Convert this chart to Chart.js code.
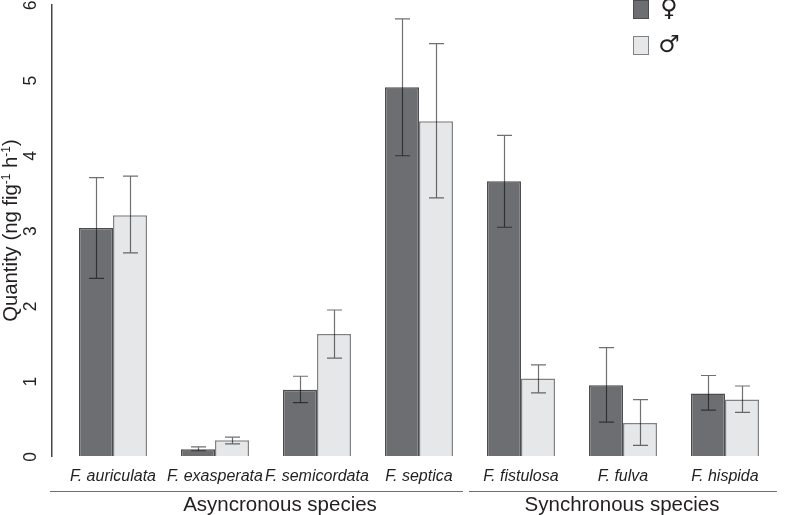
<!DOCTYPE html>
<html>
<head>
<meta charset="utf-8">
<style>
  html, body { margin: 0; padding: 0; background: #fff; }
  canvas { display: block; }
</style>
<script src="https://cdn.jsdelivr.net/npm/chart.js@4"></script>
</head>
<body>
<canvas id="chart" width="787" height="515"></canvas>
<script>
const species = ['F. auriculata', 'F. exasperata', 'F. semicordata', 'F. septica', 'F. fistulosa', 'F. fulva', 'F. hispida'];
const femaleValues = [3.03, 0.09, 0.88, 4.90, 3.65, 0.94, 0.83];
const maleValues = [3.20, 0.21, 1.62, 4.45, 1.03, 0.44, 0.75];
const femaleLow = [2.36, 0.07, 0.71, 3.99, 3.04, 0.45, 0.61];
const femaleHigh = [3.70, 0.12, 1.06, 5.81, 4.26, 1.44, 1.07];
const maleLow = [2.70, 0.16, 1.30, 3.43, 0.84, 0.14, 0.58];
const maleHigh = [3.72, 0.25, 1.94, 5.48, 1.21, 0.75, 0.93];
const yTicks = [0, 1, 2, 3, 4, 5, 6];
const groupNames = ['Asyncronous species', 'Synchronous species'];
const groupFirst = [0, 4];
const groupLast = [3, 6];

const SANS = '"Liberation Sans", Arial, sans-serif';
const INK = '#47474a';

const toPoints = (values) => values.map((y, x) => ({ x, y }));

// whiskers and caps, positioned from the bars the library laid out
const errorBars = {
  id: 'errorBars',
  afterDatasetsDraw(chart) {
    const { ctx, scales } = chart;
    const lows = [femaleLow, maleLow];
    const highs = [femaleHigh, maleHigh];
    ctx.save();
    // multiply: grey over white and the pale bars, near black over the dark bars
    ctx.globalCompositeOperation = 'multiply';
    ctx.strokeStyle = '#707072';
    ctx.lineWidth = 1.2;
    lows.forEach((low, d) => {
      chart.getDatasetMeta(d).data.forEach((bar, i) => {
        const x = Math.round(bar.x) + 0.5;
        const y0 = scales.y.getPixelForValue(low[i]);
        const y1 = scales.y.getPixelForValue(highs[d][i]);
        ctx.beginPath();
        ctx.moveTo(x, y0);
        ctx.lineTo(x, y1);
        ctx.moveTo(x - 7.5, y0);
        ctx.lineTo(x + 7.5, y0);
        ctx.moveTo(x - 7.5, y1);
        ctx.lineTo(x + 7.5, y1);
        ctx.stroke();
      });
    });
    ctx.restore();
  }
};

// rules and captions below the species names
const groupRules = {
  id: 'groupRules',
  afterDraw(chart) {
    const { ctx, scales } = chart;
    const pads = [[63, 44], [52, 52]];
    const centres = [280, 622];
    ctx.save();
    groupNames.forEach((name, i) => {
      const left = scales.x.getPixelForValue(groupFirst[i]) - pads[i][0];
      const right = scales.x.getPixelForValue(groupLast[i]) + pads[i][1];
      ctx.strokeStyle = '#6d6e71';
      ctx.lineWidth = 1;
      ctx.beginPath();
      ctx.moveTo(left, 491.5);
      ctx.lineTo(right, 491.5);
      ctx.stroke();
      ctx.fillStyle = '#231f20';
      ctx.font = '20.5px ' + SANS;
      ctx.textAlign = 'center';
      ctx.textBaseline = 'alphabetic';
      ctx.fillText(name, centres[i], 511);
    });
    ctx.restore();
  }
};

// y title with raised exponents
const yTitle = {
  id: 'yTitle',
  afterDraw(chart) {
    const { ctx } = chart;
    const parts = [['Quantity (ng fig', 0], ['-1', 1], [' h', 0], ['-1', 1], [')', 0]];
    const fontFor = (sup) => (sup ? '12px ' : '20.3px ') + SANS;
    ctx.save();
    let total = 0;
    parts.forEach(([text, sup]) => {
      ctx.font = fontFor(sup);
      total += ctx.measureText(text).width;
    });
    ctx.translate(17, 230.5);
    ctx.rotate(-Math.PI / 2);
    ctx.fillStyle = '#231f20';
    ctx.textAlign = 'left';
    ctx.textBaseline = 'alphabetic';
    let at = -total / 2;
    parts.forEach(([text, sup]) => {
      ctx.font = fontFor(sup);
      ctx.fillText(text, at, sup ? -7 : 0);
      at += ctx.measureText(text).width;
    });
    ctx.restore();
  }
};

const sexKey = {
  id: 'sexKey',
  afterDraw(chart) {
    const { ctx } = chart;
    const tops = [1, 37];
    ctx.save();
    chart.data.datasets.forEach((ds, i) => {
      ctx.fillStyle = ds.backgroundColor;
      ctx.strokeStyle = ds.borderColor;
      ctx.lineWidth = 1;
      ctx.fillRect(634, tops[i], 15, 18);
      ctx.strokeRect(633.5, tops[i] - 0.5, 15, 18);
      ctx.fillStyle = '#231f20';
      ctx.font = '24px "DejaVu Sans"';
      ctx.textAlign = 'center';
      ctx.textBaseline = 'middle';
      ctx.fillText(ds.label, 669, tops[i] + 9);
    });
    ctx.restore();
  }
};

new Chart(document.getElementById('chart'), {
  type: 'bar',
  data: {
    datasets: [
      { label: '♀', data: toPoints(femaleValues), backgroundColor: '#6d6e71', borderColor: '#4c4c4f', borderWidth: 1.5 },
      { label: '♂', data: toPoints(maleValues), backgroundColor: '#e6e7e8', borderColor: '#808184', borderWidth: 1.5 }
    ]
  },
  options: {
    responsive: false,
    animation: false,
    layout: { padding: { top: 4.5, right: 0, bottom: 0, left: 0 } },
    datasets: { bar: { barPercentage: 1, categoryPercentage: 2 / 3 } },
    plugins: { legend: { display: false }, tooltip: { enabled: false } },
    scales: {
      x: {
        type: 'linear',
        offset: false,
        min: -0.598,
        max: 6.608,
        afterFit: (scale) => {
          scale.height = 59;
          scale.paddingLeft = 0;
          scale.paddingRight = 0;
        },
        border: { display: false },
        grid: { display: false, drawTicks: false, offset: false },
        ticks: {
          stepSize: 1,
          includeBounds: false,
          autoSkip: false,
          maxRotation: 0,
          padding: 11,
          color: '#231f20',
          font: { family: SANS, size: 16, style: 'italic' },
          callback: (value) => species[value]
        }
      },
      y: {
        min: 0,
        max: 6,
        afterFit: (scale) => {
          scale.width = 52;
          scale.paddingTop = 0;
          scale.paddingBottom = 0;
        },
        afterBuildTicks: (scale) => { scale.ticks = yTicks.map((value) => ({ value })); },
        border: { display: true, color: INK, width: 1.5 },
        grid: { display: false, drawTicks: true, tickLength: 7, tickColor: INK, tickWidth: 1.5 },
        ticks: {
          minRotation: 90,
          maxRotation: 90,
          padding: 14,
          labelOffset: -4,
          color: '#231f20',
          font: { family: SANS, size: 17.5 }
        }
      }
    }
  },
  plugins: [errorBars, groupRules, yTitle, sexKey]
});
</script>
</body>
</html>
